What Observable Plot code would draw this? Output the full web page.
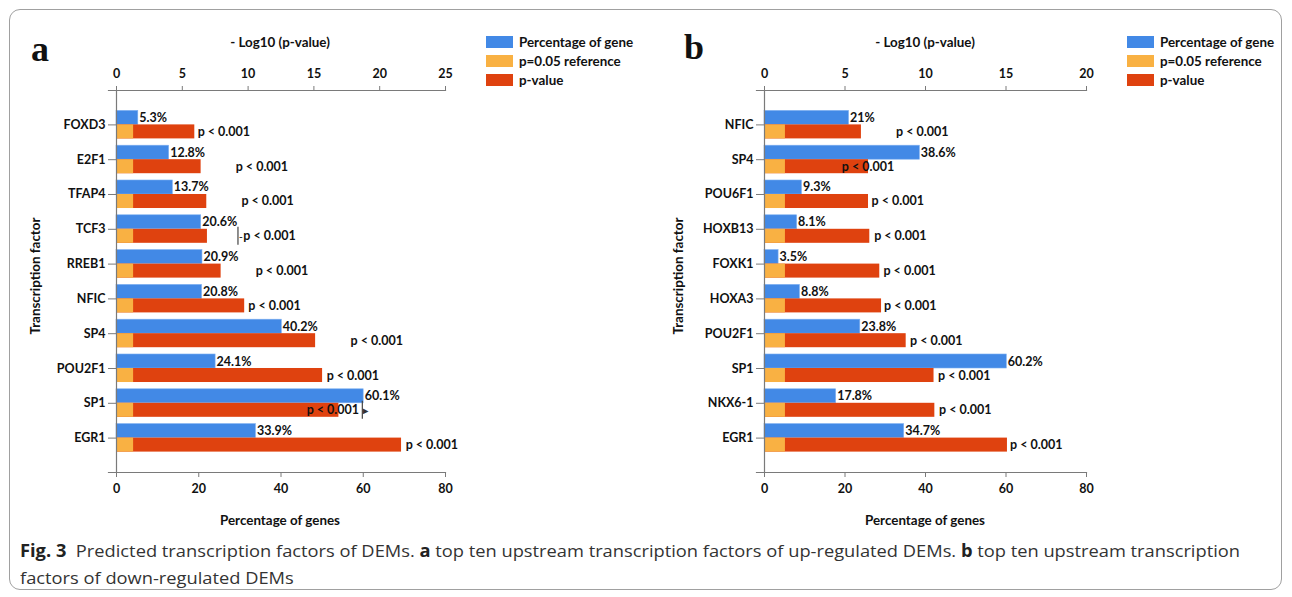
<!DOCTYPE html>
<html><head><meta charset="utf-8">
<script src="https://cdn.jsdelivr.net/npm/d3@7"></script>
<script src="https://cdn.jsdelivr.net/npm/@observablehq/plot@0.6"></script>
<style>
body{margin:0;background:#fff;}
#wrap{position:relative;width:1292px;height:597px;overflow:hidden;font-family:Lato,"Open Sans",sans-serif;color:#111;}
#border{position:absolute;left:9px;top:9px;width:1273px;height:581px;border:1px solid #a0a0a0;border-radius:11px;box-sizing:border-box;}
.panel{position:absolute;top:0;}
.tag{position:absolute;font-family:"Liberation Serif","DejaVu Serif",serif;font-weight:bold;font-size:36px;line-height:1;}
.title{position:absolute;font-weight:bold;font-size:13.4px;white-space:nowrap;transform:translate(-50%,-50%);}
.ytitle{position:absolute;font-weight:bold;font-size:13.4px;white-space:nowrap;transform:translate(-50%,-50%) rotate(-90deg);}
.legend{position:absolute;font-weight:bold;font-size:13.4px;}
.legend div{display:flex;align-items:center;height:19px;}
.legend span.sw{display:inline-block;width:27px;height:12px;margin-right:6px;}
.cap{position:absolute;left:20px;font-family:"Open Sans","Noto Sans",sans-serif;font-size:17px;color:#333;white-space:nowrap;transform-origin:0 50%;}
.cap b{color:#222;}
</style>
</head><body>
<div id="wrap">
  <div id="border"></div>
  <div id="pa" class="panel" style="left:0px"></div>
  <div id="pb" class="panel" style="left:646px"></div>
</div>
<script>
// ---- data ----
const tfA = ["FOXD3","E2F1","TFAP4","TCF3","RREB1","NFIC","SP4","POU2F1","SP1","EGR1"];
const pctA = [5.3,12.8,13.7,20.6,20.9,20.8,40.2,24.1,60.1,33.9];
const logpA = [5.95,6.43,6.86,6.91,7.95,9.74,15.13,15.66,16.9,21.66];
const pLabelAtA = [6.17,9.06,9.49,9.64,10.58,10.02,17.79,15.97,14.45,21.97];
const errTfA = ["TCF3","SP1"];
const errAtA = [9.23,18.68];
const errGlyphA = ["-","▸"];

const tfB = ["NFIC","SP4","POU6F1","HOXB13","FOXK1","HOXA3","POU2F1","SP1","NKX6-1","EGR1"];
const pctB = [21,38.6,9.3,8.1,3.5,8.8,23.8,60.2,17.8,34.7];
const logpB = [6.02,6.46,6.46,6.54,7.16,7.27,8.8,10.53,10.58,15.09];
const pLabelAtB = [8.17,4.8,6.65,6.81,7.39,7.43,9.04,10.78,10.84,15.25];

const refLogp = 1.3; // -log10(0.05)
const pctTicks = [0,20,40,60,80];
const logTicksA = [0,5,10,15,20,25];
const logTicksB = [0,5,10,15,20];
const pText = "p < 0.001";
const legendLabels = ["Percentage of gene","p=0.05 reference","p-value"];

const blue = "#4289E6", orange = "#F9B143", red = "#DF420F", axisCol = "#7a7a7a";

function panel(opts) {
  const {tf, pct, logp, labelAt, logMax, logTicks, width, marginLeft, marginRight, errTf = [], errAt = [], errGlyph = []} = opts;
  const k = 80 / logMax;
  const rows = tf.map((t, i) => ({tf: t, pct: pct[i], logp: logp[i], lab: labelAt[i]}));
  const errs = errTf.map((t, i) => ({tf: t, at: errAt[i], g: errGlyph[i]}));
  return Plot.plot({
    width, height: 530, marginLeft, marginRight, marginTop: 90, marginBottom: 58,
    x: {domain: [0, 80]},
    y: {domain: tf, paddingInner: 0.195, paddingOuter: 0.586, round: false},
    style: {fontFamily: "Lato, 'Open Sans', sans-serif", fontSize: "12.5px", fontWeight: "bold", color: "#111", background: "transparent", overflow: "visible"},
    marks: [
      Plot.barX(rows, {x1: 0, x2: "pct", y: "tf", fill: blue, stroke: "#7fb0f0", strokeWidth: 0.6, insetBottom: 14}),
      Plot.barX(rows, {x1: 0, x2: d => d.logp * k, y: "tf", fill: red, insetTop: 14}),
      Plot.barX(rows, {x1: 0, x2: () => refLogp * k, y: "tf", fill: orange, insetTop: 14}),
      Plot.text(rows, {x: "pct", y: "tf", text: d => d.pct + "%", textAnchor: "start", dx: 1, dy: -7, fill: "#111"}),
      Plot.text(rows, {x: d => d.lab * k, y: "tf", text: () => pText, textAnchor: "start", dy: 7, fill: "#111"}),
      Plot.tickX(errs, {x: d => d.at * k, y: "tf", stroke: "#444", strokeWidth: 1.2, insetTop: 12, insetBottom: -2}),
      Plot.text(errs, {x: d => d.at * k, y: "tf", text: "g", textAnchor: "start", dx: 1, dy: 7, fill: "#333", fontSize: 10}),
      Plot.ruleX([0], {stroke: axisCol, strokeWidth: 1.2}),
      Plot.frame({anchor: "top", stroke: axisCol, strokeWidth: 1.2, insetLeft: -8}),
      Plot.frame({anchor: "bottom", stroke: axisCol, strokeWidth: 1.2, insetLeft: -8}),
      Plot.axisX({anchor: "bottom", ticks: pctTicks, tickSize: 5, tickPadding: 7, stroke: axisCol, label: null, fill: "#111"}),
      Plot.axisX({anchor: "top", ticks: logTicks.map(v => v * k), tickFormat: d => String(Math.round(d / k)), tickSize: 5, tickPadding: 8, stroke: axisCol, label: null, fill: "#111"}),
      Plot.axisY({anchor: "left", tickSize: 8, tickPadding: 3, stroke: axisCol, label: null, fill: "#111"})
    ]
  });
}

document.getElementById("pa").append(panel({tf: tfA, pct: pctA, logp: logpA, labelAt: pLabelAtA, logMax: 25, logTicks: logTicksA, width: 640, marginLeft: 116, marginRight: 195, errTf: errTfA, errAt: errAtA, errGlyph: errGlyphA}));
document.getElementById("pb").append(panel({tf: tfB, pct: pctB, logp: logpB, labelAt: pLabelAtB, logMax: 20, logTicks: logTicksB, width: 646, marginLeft: 118, marginRight: 206}));

// ---- text, legends, caption ----
const wrap = document.getElementById("wrap");
function add(cls, html, style) { const d = document.createElement("div"); d.className = cls; d.innerHTML = html; Object.assign(d.style, style); wrap.append(d); return d; }
add("tag", "a", {left: "31px", top: "31px"});
add("tag", "b", {left: "684px", top: "29px"});
add("title", "- Log10 (p-value)", {left: "280px", top: "42px"});
add("title", "- Log10 (p-value)", {left: "925px", top: "42px"});
add("title", "Percentage of genes", {left: "280px", top: "520px"});
add("title", "Percentage of genes", {left: "925px", top: "520px"});
add("ytitle", "Transcription factor", {left: "35px", top: "276px"});
add("ytitle", "Transcription factor", {left: "678px", top: "276px"});
const swCols = [blue, orange, red];
function legend(left) {
  add("legend", legendLabels.map((l, i) => `<div><span class="sw" style="background:${swCols[i]}"></span>${l}</div>`).join(""), {left: left + "px", top: "32px"});
}
legend(486); legend(1127);
const c1 = add("cap", '<b>Fig. 3</b>&nbsp; Predicted transcription factors of DEMs. <b>a</b> top ten upstream transcription factors of up-regulated DEMs. <b>b</b> top ten upstream transcription', {top: "539px"});
const c2 = add("cap", 'factors of down-regulated DEMs', {top: "566px"});
const w = c1.getBoundingClientRect().width;
const s = 1220 / w;
c1.style.transform = `scaleX(${s})`; c2.style.transform = `scaleX(${s})`;
</script>
</body></html>
